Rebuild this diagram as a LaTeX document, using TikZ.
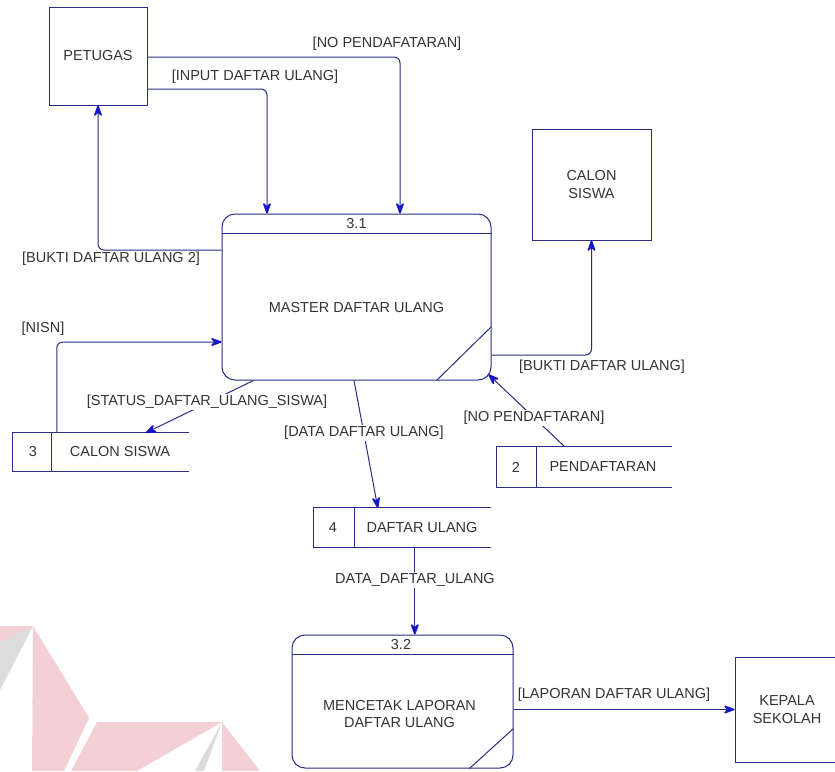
\documentclass[tikz,border=0pt]{standalone}
\usepackage{fontspec}
\setmainfont{Liberation Sans}
\usetikzlibrary{arrows.meta}
\definecolor{flowline}{RGB}{44,44,132}
\definecolor{tipblue}{RGB}{22,22,196}
\definecolor{inktext}{RGB}{52,52,52}
\definecolor{markpink}{RGB}{243,208,213}
\definecolor{markgray}{RGB}{220,220,220}
\tikzset{
  dfd/.style={font=\fontsize{14.5}{16.5}\selectfont, text=inktext},
  extbox/.style={dfd, draw=flowline, line width=1pt, align=center, inner sep=0pt},
  procbox/.style={draw=flowline, line width=1pt, rounded corners=13pt, inner sep=0pt},
  storebox/.style={inner sep=0pt},
  storeline/.style={draw=flowline, line width=1pt},
  flow/.style={draw=flowline, line width=1pt, rounded corners=6pt,
    -{Stealth[length=14pt,width=10pt,inset=5pt,line width=1.6pt,round,color=tipblue]}},
  flowlabel/.style={dfd, inner sep=1.5pt},
  cutlabel/.style={dfd, fill=white, inner sep=1.5pt},
}
\begin{document}
\begin{tikzpicture}[x=1pt,y=-1pt]
\useasboundingbox (0,0) rectangle (835,771);
\fill[white] (0,0) rectangle (835,771);

% faint logo mark in the lower left
\fill[markpink] (0,626) -- (33,626) -- (0,643) -- cycle;
\fill[markgray] (33,626) -- (0,643) -- (0,690) -- cycle;
\fill[markpink] (33,626) -- (89,718) -- (64,771) -- (32,771) -- cycle;
\fill[markpink] (97,722) -- (222,722) -- (137,771) -- (71,771) -- cycle;
\fill[markpink] (222,722) -- (260,771) -- (222,771) -- cycle;
\fill[markgray] (222,722) -- (195,771) -- (204,771) -- cycle;

% external entities
\node[extbox, minimum width=98pt, minimum height=98pt] (petugas) at (98,56) {PETUGAS};
\node[extbox, minimum width=119pt, minimum height=111pt] (calon) at (591.5,184.5) {CALON\\[1pt]SISWA};
\node[extbox, minimum width=104pt, minimum height=105pt] (kepala) at (787,709.5) {KEPALA\\[1pt]SEKOLAH};

% process 3.1
\node[procbox, minimum width=269pt, minimum height=166pt] (p31) at (356.5,297) {};
\draw[flowline, line width=1pt] ([yshift=-20pt]p31.north west) -- ([yshift=-20pt]p31.north east);
\draw[flowline, line width=1pt] ([yshift=54pt]p31.south east) -- ([xshift=-55pt]p31.south east);
\node[dfd] (p31num) at (356.5,224) {3.1};
\node[dfd] (p31name) at (356.5,308) {MASTER DAFTAR ULANG};

% process 3.2
\node[procbox, minimum width=221pt, minimum height=133pt] (p32) at (402.5,701.5) {};
\draw[flowline, line width=1pt] ([yshift=-20pt]p32.north west) -- ([yshift=-20pt]p32.north east);
\draw[flowline, line width=1pt] ([yshift=40pt]p32.south east) -- ([xshift=-44pt]p32.south east);
\node[dfd] (p32num) at (401,644) {3.2};
\node[dfd, align=center] (p32name) at (399.5,714) {MENCETAK LAPORAN\\[1pt]DAFTAR ULANG};

% data stores
\node[storebox, minimum width=176pt, minimum height=38pt] (s3) at (101,452) {};
\draw[storeline] (s3.north east) -- (s3.north west) -- (s3.south west) -- (s3.south east);
\draw[storeline] ([xshift=39pt]s3.north west) -- ([xshift=39pt]s3.south west);
\node[dfd] (s3num) at (33,452) {3};
\node[dfd] (s3name) at (120,452) {CALON SISWA};

\node[storebox, minimum width=177pt, minimum height=39pt] (s4) at (402.5,527.5) {};
\draw[storeline] (s4.north east) -- (s4.north west) -- (s4.south west) -- (s4.south east);
\draw[storeline] ([xshift=41pt]s4.north west) -- ([xshift=41pt]s4.south west);
\node[dfd] (s4num) at (333,528) {4};
\node[dfd] (s4name) at (422,528) {DAFTAR ULANG};

\node[storebox, minimum width=175pt, minimum height=40pt] (s2) at (584.5,467) {};
\draw[storeline] (s2.north east) -- (s2.north west) -- (s2.south west) -- (s2.south east);
\draw[storeline] ([xshift=40pt]s2.north west) -- ([xshift=40pt]s2.south west);
\node[dfd] (s2num) at (516,467) {2};
\node[dfd] (s2name) at (603,467) {PENDAFTARAN};

% data flows
\draw[flow] ([yshift=-1pt]petugas.east) -| ([xshift=43.5pt]p31.north);
\draw[flow] ([yshift=-33pt]petugas.east) -| ([xshift=-89.5pt]p31.north);
\draw[flow] ([yshift=47pt]p31.west) -| (petugas.south);
\draw[flow] ([xshift=44pt]s3.north west) |- ([yshift=-45pt]p31.west);
\draw[flow] ([xshift=32pt]p31.south west) -- ([xshift=133pt]s3.north west);
\draw[flow] ([xshift=-2.5pt]p31.south) -- ([xshift=64pt]s4.north west);
\draw[flow] ([xshift=101pt]s4.south west) -- ([xshift=101pt]s4.south west |- p32.north);
\draw[flow] ([yshift=-58pt]p31.east) -| (calon.south);
\draw[flow] ([xshift=68pt]s2.north west) -- ([xshift=-3pt,yshift=6pt]p31.south east);
\draw[flow] ([yshift=-8pt]p32.east) -- (kepala.west);

% flow labels
\node[flowlabel] (lnopf) at (387,44) {[NO PENDAFATARAN]};
\node[flowlabel] (linput) at (255,77) {[INPUT DAFTAR ULANG]};
\node[flowlabel] (lbukti2) at (111,259) {[BUKTI DAFTAR ULANG 2]};
\node[flowlabel] (lnisn) at (43,329) {[NISN]};
\node[cutlabel] (lstatus) at (207,402) {[STATUS\_DAFTAR\_ULANG\_SISWA]};
\node[cutlabel] (ldata) at (364,433) {[DATA DAFTAR ULANG]};
\node[flowlabel] (lbukti) at (602,367) {[BUKTI DAFTAR ULANG]};
\node[cutlabel] (lnopd) at (534,418) {[NO PENDAFTARAN]};
\node[cutlabel] (ldata2) at (415,580) {DATA\_DAFTAR\_ULANG};
\node[flowlabel] (llap) at (614,695) {[LAPORAN DAFTAR ULANG]};
\end{tikzpicture}
\end{document}
